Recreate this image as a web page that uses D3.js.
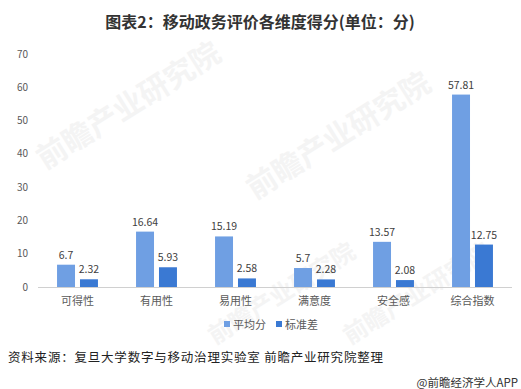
<!DOCTYPE html>
<html>
<head>
<meta charset="utf-8">
<script src="https://cdn.jsdelivr.net/npm/d3@7"></script>
<style>
  body { margin: 0; background: #fff; }
  text { font-family: "Noto Sans CJK SC", "Noto Sans", sans-serif; }
</style>
</head>
<body>
<div id="chart"></div>
<script>
var width = 521;
var height = 389;

// data
var categories = ["可得性", "有用性", "易用性", "满意度", "安全感", "综合指数"];
var seriesNames = ["平均分", "标准差"];
var avgScores = [6.7, 16.64, 15.19, 5.7, 13.57, 57.81];
var stdDevs = [2.32, 5.93, 2.58, 2.28, 2.08, 12.75];
var yTicks = [0, 10, 20, 30, 40, 50, 60, 70];

var colors = ["#6f9fe3", "#3a79d3"];

var svg = d3.select("#chart")
  .append("svg")
  .attr("width", width)
  .attr("height", height);

svg.append("rect").attr("width", width).attr("height", height).attr("fill", "#fff");

// faint watermarks
var marks = [[45, 170, 30], [255, 200, 30], [215, 345, 24], [350, 345, 24]];
marks.forEach(function(m) {
  svg.append("text")
    .attr("transform", "translate(" + m[0] + "," + m[1] + ") rotate(-32)")
    .attr("font-size", m[2])
    .attr("font-weight", "bold")
    .attr("fill", "#f4f4f4")
    .text("前瞻产业研究院");
});

// title
svg.append("text")
  .attr("x", 260)
  .attr("y", 28)
  .attr("text-anchor", "middle")
  .attr("font-size", 16)
  .attr("font-weight", "bold")
  .attr("fill", "#333")
  .text("图表2：移动政务评价各维度得分(单位：分)");

var x0 = d3.scaleBand()
  .domain(categories)
  .range([38, 512]);

var x1 = d3.scaleBand()
  .domain(seriesNames)
  .range([0, x0.bandwidth()])
  .paddingInner(0.217)
  .paddingOuter(0.83);

var y = d3.scaleLinear()
  .domain([0, 70])
  .range([287, 54]);

// y tick labels
svg.selectAll(".yTick")
  .data(yTicks)
  .enter()
  .append("text")
  .attr("class", "yTick")
  .attr("x", 28)
  .attr("y", function(d) { return y(d) + 3.5; })
  .attr("text-anchor", "end")
  .attr("font-size", 10)
  .attr("fill", "#595959")
  .text(function(d) { return d; });

// bars
var rows = categories.map(function(c, i) {
  return { cat: c, values: [avgScores[i], stdDevs[i]] };
});

var groups = svg.selectAll(".grp")
  .data(rows)
  .enter()
  .append("g")
  .attr("class", "grp")
  .attr("transform", function(d) { return "translate(" + x0(d.cat) + ",0)"; });

groups.selectAll("rect")
  .data(function(d) { return d.values.map(function(v, j) { return { s: seriesNames[j], v: v, j: j }; }); })
  .enter()
  .append("rect")
  .attr("x", function(d) { return x1(d.s); })
  .attr("y", function(d) { return y(d.v); })
  .attr("width", x1.bandwidth())
  .attr("height", function(d) { return y(0) - y(d.v); })
  .attr("fill", function(d) { return colors[d.j]; });

groups.selectAll(".val")
  .data(function(d) { return d.values.map(function(v, j) { return { s: seriesNames[j], v: v }; }); })
  .enter()
  .append("text")
  .attr("class", "val")
  .attr("x", function(d) { return x1(d.s) + x1.bandwidth() / 2; })
  .attr("y", function(d) { return y(d.v) - 6; })
  .attr("text-anchor", "middle")
  .attr("font-size", 10.5)
  .attr("fill", "#404040")
  .text(function(d) { return d.v; });

// x axis
svg.append("line")
  .attr("x1", 38).attr("x2", 512)
  .attr("y1", y(0) + 0.5).attr("y2", y(0) + 0.5)
  .attr("stroke", "#d0d0d0");

svg.selectAll(".xLabel")
  .data(categories)
  .enter()
  .append("text")
  .attr("class", "xLabel")
  .attr("x", function(d) { return x0(d) + x0.bandwidth() / 2; })
  .attr("y", 305)
  .attr("text-anchor", "middle")
  .attr("font-size", 11)
  .attr("fill", "#595959")
  .text(function(d) { return d; });

// legend
var legendX = [224, 276];
seriesNames.forEach(function(s, i) {
  svg.append("rect")
    .attr("x", legendX[i])
    .attr("y", 321)
    .attr("width", 6)
    .attr("height", 6)
    .attr("fill", colors[i]);
  svg.append("text")
    .attr("x", legendX[i] + 9)
    .attr("y", 328.5)
    .attr("font-size", 11)
    .attr("fill", "#595959")
    .text(s);
});

// source
svg.append("text")
  .attr("x", 8)
  .attr("y", 362)
  .attr("font-size", 12.5)
  .attr("fill", "#222")
  .attr("textLength", 375)
  .text("资料来源：复旦大学数字与移动治理实验室 前瞻产业研究院整理");

svg.append("text")
  .attr("x", 518)
  .attr("y", 387)
  .attr("text-anchor", "end")
  .attr("font-size", 11.5)
  .attr("fill", "#333")
  .text("@前瞻经济学人APP");
</script>
</body>
</html>
